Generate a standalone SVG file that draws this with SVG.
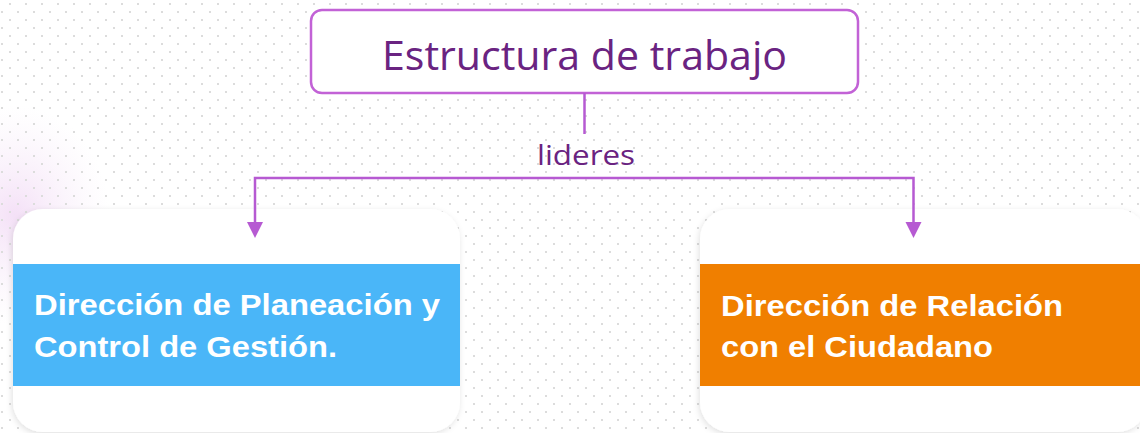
<svg xmlns="http://www.w3.org/2000/svg" width="1140" height="433" viewBox="0 0 1140 433">
  <defs>
    <pattern id="dots" x="0" y="0" width="16" height="16" patternUnits="userSpaceOnUse">
      <rect x="9" y="3" width="2" height="2" fill="#dcdcdc"/>
      <rect x="1" y="11" width="2" height="2" fill="#dcdcdc"/>
    </pattern>
    <radialGradient id="glow" cx="0.5" cy="0.5" r="0.5">
      <stop offset="0" stop-color="#efd3f3" stop-opacity="0.7"/>
      <stop offset="1" stop-color="#f6e8f8" stop-opacity="0"/>
    </radialGradient>
    <filter id="shadow" x="-10%" y="-10%" width="120%" height="120%">
      <feDropShadow dx="-1" dy="2" stdDeviation="3" flood-color="#000" flood-opacity="0.12"/>
    </filter>
    <clipPath id="clipL"><rect x="13" y="209" width="447" height="223" rx="30"/></clipPath>
    <clipPath id="clipR"><rect x="700" y="209" width="447" height="223" rx="30"/></clipPath>
  </defs>
  <style>
    .conn { fill: none; stroke: #b65ad2; stroke-width: 2.5; }
    .head { fill: #b65ad2; }
    .title { font-family: "Open Sans", "Noto Sans", sans-serif; font-size: 41px; fill: #6a2381; }
    .label { font-family: "Open Sans", "Noto Sans", sans-serif; font-size: 28px; fill: #6a2381; }
    .card-text { font-family: "Liberation Sans", Arial, sans-serif; font-weight: bold; font-size: 30px; fill: #ffffff; }
    .card { fill: #ffffff; filter: url(#shadow); }
  </style>
  <rect x="0" y="0" width="1140" height="433" fill="#ffffff"/>
  <ellipse cx="15" cy="215" rx="95" ry="110" fill="url(#glow)"/>
  <rect x="0" y="0" width="1140" height="433" fill="url(#dots)"/>

  <g id="node-title">
    <rect x="311" y="10" width="547" height="83" rx="11" fill="#ffffff" stroke="#c262d6" stroke-width="2.5"/>
    <text class="title" x="584.5" y="70" text-anchor="middle" textLength="405" lengthAdjust="spacingAndGlyphs">Estructura de trabajo</text>
  </g>

  <g id="node-planeacion">
    <rect class="card" x="13" y="209" width="447" height="223" rx="30"/>
    <rect x="13" y="264" width="447" height="122" fill="#4ab6f8" clip-path="url(#clipL)"/>
    <text class="card-text" x="34" y="315" textLength="406" lengthAdjust="spacingAndGlyphs">Dirección de Planeación y</text>
    <text class="card-text" x="34" y="357" textLength="303" lengthAdjust="spacingAndGlyphs">Control de Gestión.</text>
  </g>

  <g id="node-ciudadano">
    <rect class="card" x="700" y="209" width="447" height="223" rx="30"/>
    <rect x="700" y="264" width="447" height="122" fill="#f07f00" clip-path="url(#clipR)"/>
    <text class="card-text" x="721" y="316" textLength="342" lengthAdjust="spacingAndGlyphs">Dirección de Relación</text>
    <text class="card-text" x="721" y="357" textLength="272" lengthAdjust="spacingAndGlyphs">con el Ciudadano</text>
  </g>

  <g id="connectors">
    <line class="conn" x1="584.5" y1="93" x2="584.5" y2="134"/>
    <text class="label" x="586" y="165" text-anchor="middle" textLength="98" lengthAdjust="spacingAndGlyphs">lideres</text>
    <path class="conn" d="M255,223 V178 H913.5 V223"/>
    <path class="head" d="M247,222 L263,222 L255,238 Z"/>
    <path class="head" d="M905.5,222 L921.5,222 L913.5,238 Z"/>
  </g>
</svg>
